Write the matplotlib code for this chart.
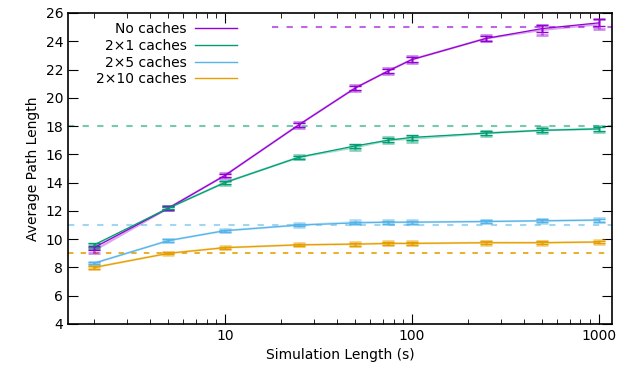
import matplotlib
matplotlib.use('Agg')
import matplotlib.pyplot as plt
from matplotlib.ticker import LogLocator, NullFormatter, FixedLocator

sim_length = [2, 5, 10, 25, 50, 75, 100, 250, 500, 1000]

labels = ['No caches', '2×1 caches', '2×5 caches', '2×10 caches']
colors = ['#9400d3', '#009e73', '#56b4e9', '#e69f00']

no_caches = [9.4, 12.2, 14.5, 18.1, 20.7, 21.9, 22.7, 24.2, 24.9, 25.3]
no_caches_err = [0.15, 0.12, 0.12, 0.15, 0.15, 0.15, 0.18, 0.15, 0.25, 0.25]
no_caches_light = [9.2, 12.2, 14.5, 18.1, 20.7, 21.9, 22.7, 24.2, 24.8, 25.2]

c2x1 = [9.6, 12.2, 14.0, 15.8, 16.6, 17.0, 17.2, 17.5, 17.7, 17.8]
c2x1_err = [0.12, 0.1, 0.1, 0.1, 0.12, 0.15, 0.15, 0.12, 0.15, 0.15]
c2x1_light = [9.5, 12.2, 14.0, 15.8, 16.5, 17.0, 17.1, 17.5, 17.7, 17.8]

c2x5 = [8.3, 9.9, 10.6, 11.0, 11.15, 11.2, 11.2, 11.25, 11.3, 11.35]
c2x5_err = [0.08, 0.08, 0.08, 0.08, 0.1, 0.1, 0.1, 0.1, 0.1, 0.1]
c2x5_light = [8.3, 9.9, 10.6, 11.0, 11.2, 11.2, 11.2, 11.25, 11.3, 11.35]

c2x10 = [8.0, 9.0, 9.4, 9.6, 9.65, 9.7, 9.7, 9.75, 9.75, 9.8]
c2x10_err = [0.08, 0.08, 0.08, 0.08, 0.1, 0.1, 0.1, 0.1, 0.1, 0.1]
c2x10_light = [8.0, 9.0, 9.4, 9.6, 9.65, 9.7, 9.7, 9.75, 9.75, 9.8]

limits = [25, 18, 11, 9]
limit_start = [18, 1.45, 1.45, 1.45]
limit_alpha = [0.6, 0.55, 0.55, 0.9]

series = [(no_caches, no_caches_err, no_caches_light),
          (c2x1, c2x1_err, c2x1_light),
          (c2x5, c2x5_err, c2x5_light),
          (c2x10, c2x10_err, c2x10_light)]

fig = plt.figure(figsize=(6.2, 3.74), dpi=100)
ax = fig.add_axes([0.1097, 0.1337, 0.8774, 0.8316])

for (vals, err, light), label, col, lim, x0, la in zip(series, labels, colors, limits,
                                                       limit_start, limit_alpha):
    # translucent duplicate run
    ax.plot(sim_length, light, color=col, alpha=0.35, lw=1.6, zorder=2)
    ax.errorbar(sim_length, light, yerr=[e * 1.4 for e in err], fmt='none',
                ecolor=col, alpha=0.45, elinewidth=2.0, capsize=4, capthick=2.0, zorder=2)
    ax.errorbar(sim_length, vals, yerr=err, color=col, lw=0.9, elinewidth=1,
                capsize=4, capthick=1, label=label, zorder=3)
    ax.plot([x0, 1180], [lim, lim], color=col, alpha=la, lw=1.3 if la > 0.8 else 1.5,
            ls=(0, (3, 4)), zorder=1)

ax.set_xscale('log')
ax.set_xlim(1.45, 1180)
ax.set_ylim(4, 26)
ax.yaxis.set_major_locator(FixedLocator(range(4, 27, 2)))
ax.xaxis.set_major_locator(FixedLocator([10, 100, 1000]))
ax.xaxis.set_minor_locator(LogLocator(base=10, subs=range(2, 10)))
ax.xaxis.set_minor_formatter(NullFormatter())
ax.set_xticklabels(['10', '100', '1000'])
ax.tick_params(which='both', direction='in', top=True, right=True, labelsize=10)
ax.tick_params(which='major', length=7)
ax.tick_params(which='minor', length=3.5)
for sp in ax.spines.values():
    sp.set_linewidth(1.2)

ax.set_xlabel('Simulation Length (s)', fontsize=10)
ax.set_ylabel('Average Path Length', fontsize=10)

handles = [plt.Line2D([], [], color=c, lw=1) for c in colors]
ax.legend(handles, labels, loc='upper left', bbox_to_anchor=(0.035, 1.0),
          frameon=False, markerfirst=False, fontsize=10, handlelength=3.0,
          handletextpad=0.6, labelspacing=0.2, borderaxespad=0.25)

fig.savefig('out.png', dpi=100)
